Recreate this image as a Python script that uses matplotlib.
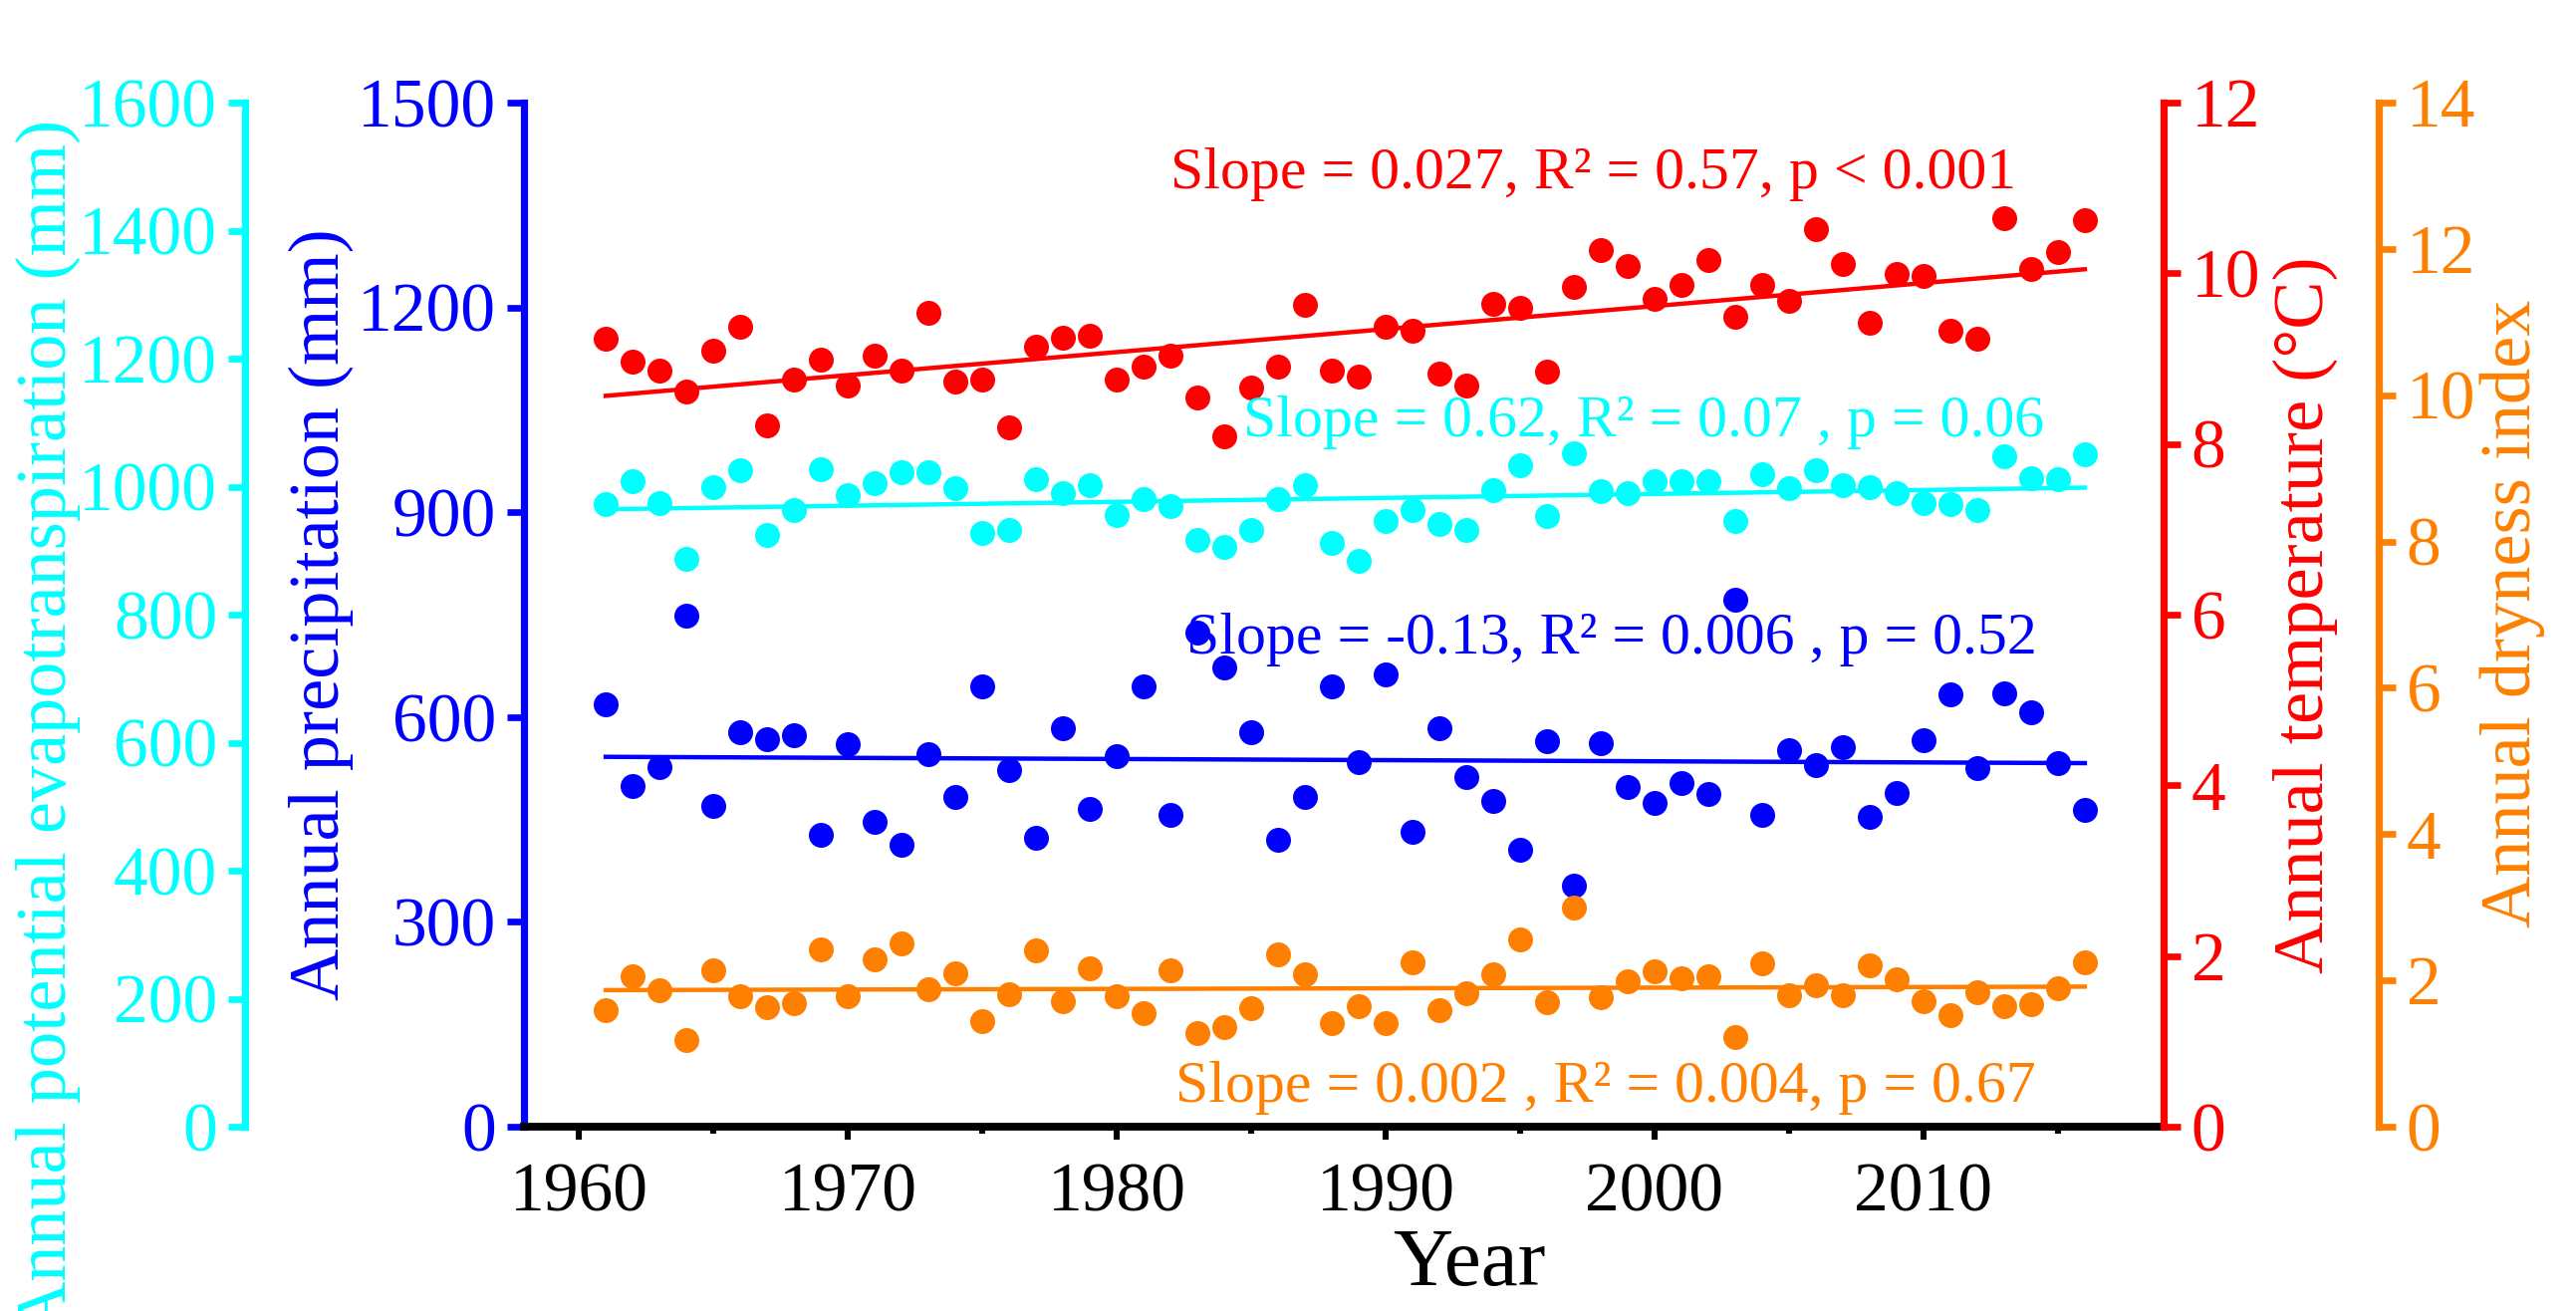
import numpy as np
import matplotlib.pyplot as plt
from matplotlib.ticker import MultipleLocator

plt.rcParams['font.family'] = ['Liberation Serif', 'DejaVu Serif']

# ----------------------------
# Data
# ----------------------------
years = list(range(1961, 2017))

precip = [619, 499, 527, 748, 470, 578, 568, 573, 428, 560,
          446, 413, 545, 483, 645, 522, 423, 583, 466, 543,
          645, 456, 724, 672, 578, 420, 483, 645, 534, 662,
          432, 584, 512, 477, 406, 564, 353, 562, 497, 474,
          503, 487, 772, 456, 552, 530, 556, 454, 489, 566,
          633, 525, 635, 607, 533, 464]

pet = [972, 1009, 974, 887, 1000, 1025, 925, 963, 1028, 986,
       1005, 1023, 1023, 998, 928, 933, 1012, 990, 1003, 956,
       980, 969, 917, 906, 933, 980, 1003, 912, 884, 947,
       964, 941, 933, 995, 1033, 954, 1052, 993, 990, 1009,
       1009, 1009, 946, 1020, 998, 1025, 1003, 1000, 990, 974,
       972, 964, 1047, 1013, 1011, 1050]

temp = [9.23, 8.97, 8.86, 8.62, 9.09, 9.37, 8.22, 8.76, 8.99, 8.68,
        9.03, 8.86, 9.54, 8.73, 8.75, 8.20, 9.14, 9.25, 9.27, 8.76,
        8.91, 9.03, 8.54, 8.09, 8.66, 8.91, 9.63, 8.86, 8.79, 9.37,
        9.33, 8.83, 8.68, 9.64, 9.59, 8.85, 9.84, 10.27, 10.09, 9.70,
        9.86, 10.15, 9.49, 9.86, 9.68, 10.52, 10.11, 9.42, 9.99, 9.97,
        9.33, 9.23, 10.65, 10.05, 10.25, 10.62]

dryness = [1.60, 2.05, 1.86, 1.19, 2.14, 1.79, 1.64, 1.69, 2.43, 1.79,
           2.29, 2.50, 1.88, 2.10, 1.45, 1.81, 2.41, 1.71, 2.17, 1.79,
           1.55, 2.14, 1.28, 1.36, 1.62, 2.36, 2.08, 1.41, 1.65, 1.41,
           2.25, 1.60, 1.82, 2.08, 2.56, 1.70, 2.99, 1.77, 1.99, 2.13,
           2.03, 2.06, 1.22, 2.23, 1.80, 1.94, 1.80, 2.20, 2.01, 1.72,
           1.53, 1.84, 1.65, 1.68, 1.89, 2.25]

stats_text = {
    "temp": "Slope = 0.027, R² = 0.57, p < 0.001",
    "pet": "Slope = 0.62, R² = 0.07 , p = 0.06",
    "precip": "Slope = -0.13, R² = 0.006 , p = 0.52",
    "dryness": "Slope = 0.002 , R² = 0.004, p = 0.67",
}

BLUE = "#0000FF"
CYAN = "#00FFFF"
RED = "#FF0000"
ORANGE = "#FF8000"

DPI = 200
PX = 72 / DPI  # points per pixel
W, H = 2586, 1316

# ----------------------------
# Axes
# ----------------------------
fig = plt.figure(figsize=(W / DPI, H / DPI), dpi=DPI)
ax = fig.add_axes([526 / W, 1 - 1131 / H, (2172 - 526) / W, (1131 - 103) / H])
ax_pet = ax.twinx()
ax_t = ax.twinx()
ax_di = ax.twinx()

x = np.array(years)


def scatter_trend(a, y, color):
    y = np.array(y)
    a.plot(x, y, 'o', color=color, markersize=9, markeredgewidth=0, zorder=3)
    k, b = np.polyfit(x, y, 1)
    a.plot([x[0], x[-1]], [k * x[0] + b, k * x[-1] + b], '-', color=color,
           linewidth=1.6, zorder=2)


scatter_trend(ax, precip, BLUE)
scatter_trend(ax_pet, pet, CYAN)
scatter_trend(ax_t, temp, RED)
scatter_trend(ax_di, dryness, ORANGE)

ax.set_xlim(1957.96, 2018.93)
ax.set_ylim(0, 1500)
ax_pet.set_ylim(0, 1600)
ax_t.set_ylim(0, 12)
ax_di.set_ylim(0, 14)

ax.xaxis.set_major_locator(MultipleLocator(10))
ax.xaxis.set_minor_locator(MultipleLocator(5))
ax.yaxis.set_major_locator(MultipleLocator(300))
ax_pet.yaxis.set_major_locator(MultipleLocator(200))
ax_t.yaxis.set_major_locator(MultipleLocator(2))
ax_di.yaxis.set_major_locator(MultipleLocator(2))

# spines
for a in (ax, ax_pet, ax_t, ax_di):
    for s in a.spines.values():
        s.set_visible(False)

ax.spines['left'].set_visible(True)
ax.spines['left'].set_color(BLUE)
ax.spines['left'].set_linewidth(2.6)
ax.spines['bottom'].set_visible(True)
ax.spines['bottom'].set_color('black')
ax.spines['bottom'].set_linewidth(2.8)

ax_pet.yaxis.set_ticks_position('left')
ax_pet.spines['left'].set_visible(True)
ax_pet.spines['left'].set_position(('outward', 280 * PX))
ax_pet.spines['left'].set_color(CYAN)
ax_pet.spines['left'].set_linewidth(2.6)

ax_t.spines['right'].set_visible(True)
ax_t.spines['right'].set_color(RED)
ax_t.spines['right'].set_linewidth(2.6)

ax_di.spines['right'].set_visible(True)
ax_di.spines['right'].set_position(('outward', 216 * PX))
ax_di.spines['right'].set_color(ORANGE)
ax_di.spines['right'].set_linewidth(2.6)

# ticks
ax.tick_params(axis='x', which='major', direction='out', length=4.8, width=2.2,
               labelsize=25, pad=8, colors='black')
ax.tick_params(axis='x', which='minor', direction='out', length=2.4, width=2.2)
for a, c in ((ax, BLUE), (ax_pet, CYAN), (ax_t, RED), (ax_di, ORANGE)):
    a.tick_params(axis='y', direction='out', length=6, width=2.4, labelsize=25,
                  colors=c, pad=4)

# axis labels
fig.text(1475 / W, 1 - 1270 / H, "Year", fontsize=30, ha='center',
         va='center', color='black')
fig.text(322 / W, 1 - 617 / H, "Annual precipitation (mm)", fontsize=26,
         rotation=90, ha='center', va='center', color=BLUE)
fig.text(48 / W, 1 - 120 / H, "Annual potential evapotranspiration (mm)",
         fontsize=26, rotation=90, ha='center', va='top', color=CYAN)
fig.text(2314 / W, 1 - 617 / H, "Annual temperature (°C)", fontsize=26,
         rotation=90, ha='center', va='center', color=RED)
fig.text(2522 / W, 1 - 616 / H, "Annual dryness index", fontsize=26,
         rotation=90, ha='center', va='center', color=ORANGE)

# regression annotations (placed in precipitation data coordinates)
ax_di.text(1982.0, 1395, stats_text["temp"], transform=ax.transData,
           fontsize=21.5, color=RED, ha='left', va='center')
ax_di.text(1984.7, 1032, stats_text["pet"], transform=ax.transData,
           fontsize=21.5, color=CYAN, ha='left', va='center')
ax_di.text(1982.6, 714, stats_text["precip"], transform=ax.transData,
           fontsize=21.5, color=BLUE, ha='left', va='center')
ax_di.text(1982.2, 57, stats_text["dryness"], transform=ax.transData,
           fontsize=21.5, color=ORANGE, ha='left', va='center')

fig.savefig("out.png", dpi=DPI)
plt.close(fig)
